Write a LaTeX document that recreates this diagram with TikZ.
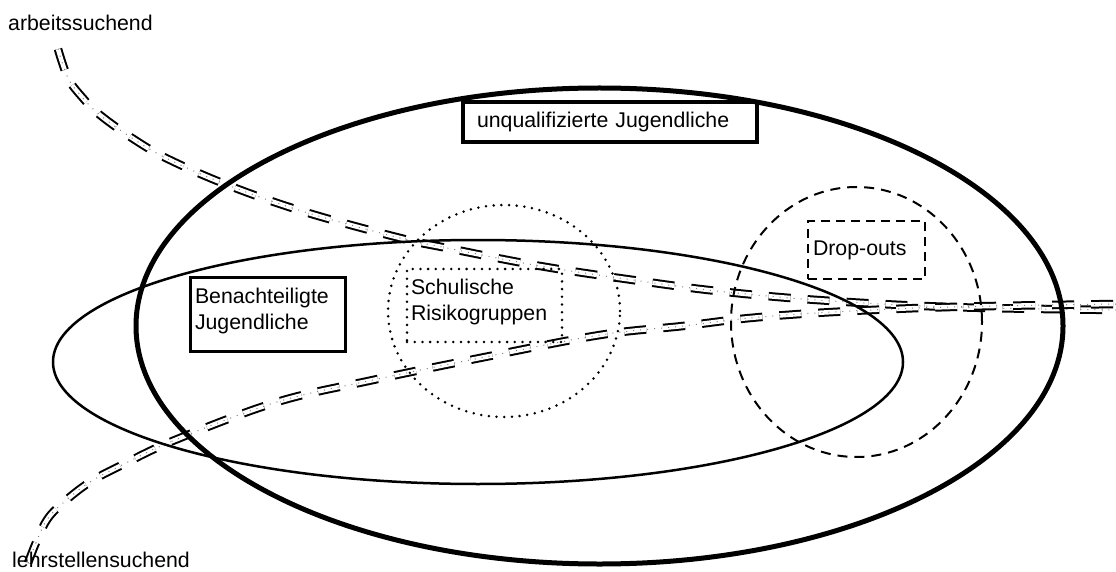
\documentclass[tikz,border=0pt]{standalone}
\usepackage{fontspec}
\setmainfont{Liberation Sans}
\begin{document}
\begin{tikzpicture}[x=1pt,y=-1pt,
  lbl/.style={font=\fontsize{21.3}{26}\selectfont, inner sep=0pt},
  boxnode/.style={draw, font=\fontsize{21.3}{26}\selectfont, align=left, inner ysep=0pt},
  track/.style={line width=2pt, double distance=4.5pt, dash pattern=on 22pt off 17pt},
  trackdots/.style={black!50, line width=1pt, dash pattern=on 1pt off 6pt},
  dotline/.style={line width=2.8pt, line cap=round, dash pattern=on 0pt off 7.7pt},
  dashline/.style={line width=2pt, dash pattern=on 10pt off 7pt}]
\useasboundingbox (0,0) rectangle (1116,572);

% tracks
\draw[track] plot[smooth, tension=0.6] coordinates {(58,49) (68,78) (82,97) (100,115) (135,140) (170,160) (230,186) (305,212) (400,238) (447,248) (540,266) (633,280) (717,291) (817,300) (950,307) (1116,310)};
\draw[trackdots] plot[smooth, tension=0.6] coordinates {(58,49) (68,78) (82,97) (100,115) (135,140) (170,160) (230,186) (305,212) (400,238) (447,248) (540,266) (633,280) (717,291) (817,300) (950,307) (1116,310)};
\draw[track] plot[smooth, tension=0.6] coordinates {(28,563) (45,523) (63,503) (90,482) (122,465) (175,440) (277,402) (373,380) (480,358) (600,335) (683,326) (750,318) (833,312) (950,307) (1116,304)};
\draw[trackdots] plot[smooth, tension=0.6] coordinates {(28,563) (45,523) (63,503) (90,482) (122,465) (175,440) (277,402) (373,380) (480,358) (600,335) (683,326) (750,318) (833,312) (950,307) (1116,304)};

% ellipses
\draw[line width=5pt] (599.5,326) ellipse [x radius=463.5pt, y radius=238pt];
\draw[line width=2.5pt] (478,362) ellipse [x radius=425pt, y radius=122pt];
\draw[dotline] (504,311) ellipse [x radius=116pt, y radius=106pt];
\draw[dashline] (856.5,322) ellipse [x radius=125.5pt, y radius=135pt];

% boxes
\node[boxnode, line width=4pt, minimum width=294pt, minimum height=40pt, inner xsep=14pt, text width=266pt] (uq) at (610,122) {unqualifizierte Jugendliche};
\node[boxnode, line width=3pt, minimum width=155pt, minimum height=74pt, inner xsep=5pt, text width=145pt] (bj) at (267.5,314) {Benachteiligte\\Jugendliche\\[-16pt]\mbox{}};
\node[boxnode, dotline, minimum width=155pt, minimum height=73pt, inner xsep=4pt, text width=147pt] (sr) at (484.5,305.5) {Schulische\\Risikogruppen\\[-14pt]\mbox{}};
\node[boxnode, line width=2.5pt, dash pattern=on 9pt off 6pt, minimum width=117pt, minimum height=58pt, inner xsep=5pt, text width=107pt] (do) at (866.5,250) {Drop-outs};

% labels
\node[lbl, anchor=base west] (as) at (8,31) {arbeitssuchend};
\node[lbl, anchor=base west] (ls) at (12,567) {lehrstellensuchend};
\end{tikzpicture}
\end{document}
